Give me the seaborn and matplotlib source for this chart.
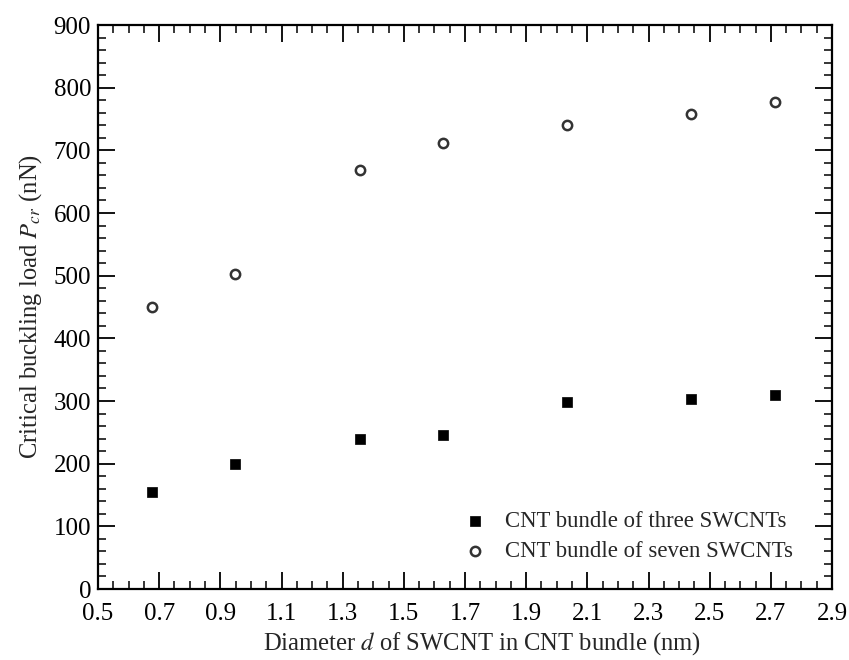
import numpy as np
import pandas as pd
import matplotlib
matplotlib.use("Agg")
import matplotlib.pyplot as plt
from matplotlib.ticker import MultipleLocator, FixedLocator, FormatStrFormatter
import seaborn as sns

# Data
diameters = [0.678, 0.949, 1.356, 1.627, 2.034, 2.44, 2.712]
load_three = [155, 200, 240, 246, 298, 303, 310]
load_seven = [450, 502, 668, 711, 740, 758, 777]
label_three = "CNT bundle of three SWCNTs"
label_seven = "CNT bundle of seven SWCNTs"
x_ticks = [0.5, 0.7, 0.9, 1.1, 1.3, 1.5, 1.7, 1.9, 2.1, 2.3, 2.5, 2.7, 2.9]

sns.set_theme(style="ticks")
plt.rcParams['font.family'] = ['Liberation Serif', 'DejaVu Serif']
plt.rcParams['mathtext.fontset'] = 'stix'

fig = plt.figure(figsize=(8.49, 6.60), dpi=100)
ax = fig.add_axes([98/849, 1-589/660, (832-98)/849, (589-25)/660])

df3 = pd.DataFrame({"d": diameters, "P": load_three})
df7 = pd.DataFrame({"d": diameters, "P": load_seven})

sns.scatterplot(data=df3, x="d", y="P", marker="s", s=60, color="black",
                edgecolor="black", linewidth=0.5, label=label_three, ax=ax, zorder=3)
sns.scatterplot(data=df7, x="d", y="P", marker="o", s=45, facecolor="white",
                edgecolor="#333333", linewidth=1.8, label=label_seven, ax=ax, zorder=3)

ax.set_xlim(0.5, 2.9)
ax.set_ylim(0, 900)
ax.xaxis.set_major_locator(FixedLocator(x_ticks))
ax.xaxis.set_major_formatter(FormatStrFormatter("%.1f"))
ax.xaxis.set_minor_locator(MultipleLocator(0.05))
ax.yaxis.set_major_locator(MultipleLocator(100))
ax.yaxis.set_minor_locator(MultipleLocator(20))

ax.tick_params(which="both", direction="in", top=True, right=True, colors="black",
               labelsize=18)
ax.tick_params(axis="y", which="major", pad=5)
ax.tick_params(axis="x", which="major", pad=10)
ax.tick_params(which="major", length=12, width=1.3)
ax.tick_params(which="minor", length=6, width=1.1)
for sp in ax.spines.values():
    sp.set_visible(True)
    sp.set_linewidth(1.6)
    sp.set_color("black")

ax.set_xlabel(r"Diameter $d$ of SWCNT in CNT bundle (nm)", fontsize=17.7)
ax.set_ylabel(r"Critical buckling load $P_{cr}$ (nN)", fontsize=17.7, labelpad=7)
ax.xaxis.set_label_coords(0.5 + 17/734, -41/564, transform=ax.transAxes)
ax.xaxis.label.set_va("top")

leg = ax.legend(loc="lower right", bbox_to_anchor=(0.962, 0.028), frameon=False,
                fontsize=16.4, handletextpad=0.3, labelspacing=0.4, borderpad=0)

fig.savefig("out.png", dpi=100, facecolor="white")
